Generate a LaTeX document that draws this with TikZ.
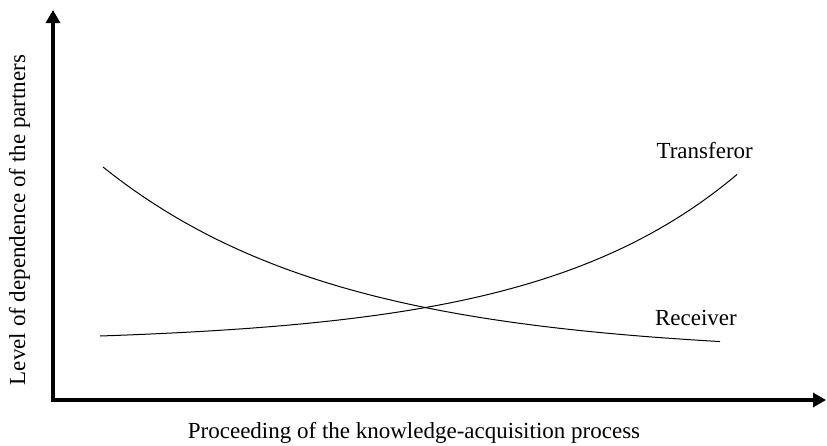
\documentclass[tikz,border=0pt]{standalone}
\usepackage{fontspec}
\setmainfont{Liberation Serif}
\usetikzlibrary{arrows.meta}
\begin{document}
\begin{tikzpicture}[x=1pt,y=-1pt,
  axis/.style={line width=3.5pt,-{Triangle[length=13pt,width=14pt]}},
  curve/.style={line width=1pt},
  lbl/.style={font=\fontsize{23}{27}\selectfont,inner sep=0pt}]
\useasboundingbox (0,0) rectangle (827,445);
% axes
\coordinate (O) at (53,400);
\coordinate (Ytop) at (53,10);
\coordinate (Xend) at (826,400);
\draw[axis] ([yshift=-1.75pt]O) -- (Ytop);
\draw[axis] ([xshift=-1.75pt]O) -- (Xend);
% axis titles
\node[lbl,rotate=90,anchor=base] (ylab) at (25,220) {Level of dependence of the partners};
\node[lbl,anchor=base] (xlab) at (414,438) {Proceeding of the knowledge-acquisition process};
% falling curve (receiver) and rising curve (transferor)
\draw[curve] plot[domain=103:720,samples=120] (\x,{355-188*exp(-0.00428*(\x-103))});
\draw[curve] plot[domain=100:737,samples=120] (\x,{336-6.95*(exp(0.005*(\x-100))-1)});
% curve labels
\node[lbl,anchor=base east] (tr) at (753,158) {Transferor};
\node[lbl,anchor=base east] (rc) at (737,325) {Receiver};
\end{tikzpicture}
\end{document}
